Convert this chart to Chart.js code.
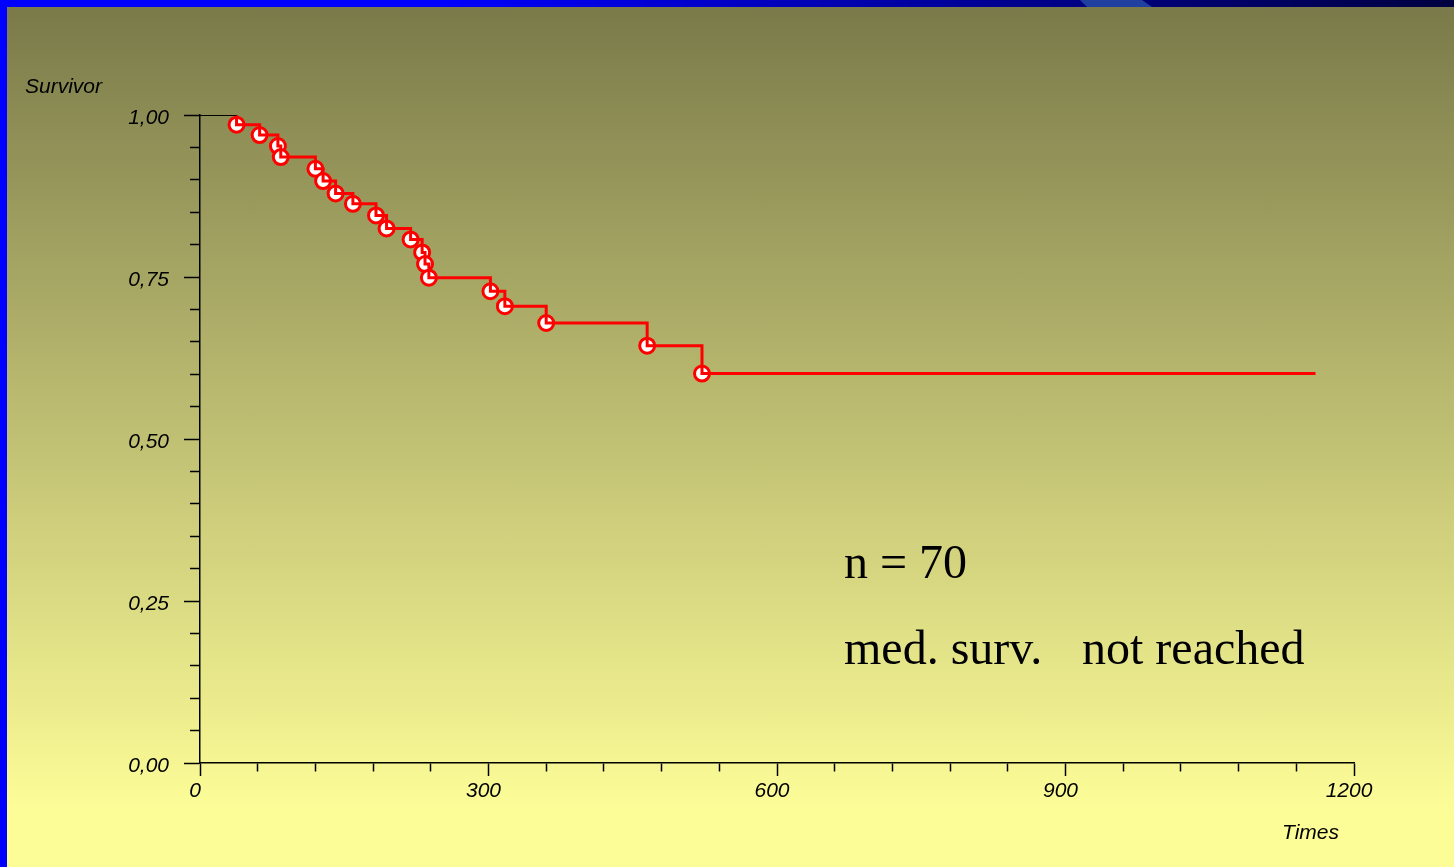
<!DOCTYPE html>
<html><head><meta charset="utf-8">
<script src="https://cdn.jsdelivr.net/npm/chart.js@4.4.0/dist/chart.umd.min.js"></script>
<style>
html,body{margin:0;padding:0;}
body{width:1454px;height:867px;position:relative;overflow:hidden;background:#fdfd98;}
#bg{position:absolute;left:7px;top:7px;width:1447px;height:860px;background:linear-gradient(to bottom,#7a7a4a 0px,#fdfd98 805px,#fdfd98 860px);}
#topbar{position:absolute;left:0;top:0;width:1454px;height:7px;background:linear-gradient(to right,#0000ff 0%,#0000ff 30%,#000090 69%,#000040 100%);}
#swoosh{position:absolute;top:0;left:1080px;width:72px;height:7px;background:#2040a0;clip-path:polygon(0 0,62px 0,72px 7px,7px 7px);}
#leftbar{position:absolute;left:0;top:0;width:7px;height:867px;background:#0000ff;}
canvas{position:absolute;left:0;top:0;}
</style></head>
<body>
<div id="bg"></div><div id="topbar"></div><div id="swoosh"></div><div id="leftbar"></div>
<canvas id="c" width="1454" height="867"></canvas>
<script>
// ---- data ----
const eventTimes = [38, 62, 81, 84, 120, 128, 141, 159, 183, 194, 219, 231, 234, 238, 302, 317, 360, 465, 522];
const survival   = [0.985, 0.969, 0.952, 0.935, 0.917, 0.898, 0.879, 0.863, 0.845, 0.825, 0.808, 0.788, 0.770, 0.749, 0.728, 0.705, 0.679, 0.644, 0.601];
const followUpEnd = 1160;
const xTickLabels = ['0', '300', '600', '900', '1200'];
const yTickLabels = ['0,00', '0,25', '0,50', '0,75', '1,00'];
const yTitle = 'Survivor';
const xTitle = 'Times';
const annotN = 'n = 70';
const annotMed1 = 'med. surv.';
const annotMed2 = 'not reached';

// ---- build datasets ----
const startLine = [{x: 0, y: 1}, {x: eventTimes[0], y: 1}];
const redLine = [{x: eventTimes[0], y: 1}]
  .concat(eventTimes.map((t, i) => ({x: t, y: survival[i]})))
  .concat([{x: followUpEnd, y: survival[survival.length - 1]}]);
const markers = eventTimes.map((t, i) => ({x: t, y: survival[i]}));

const tickFont = {family: '"Liberation Sans", Arial, sans-serif', size: 21, style: 'italic'};

const textPlugin = {
  id: 'texts',
  afterDraw(chart) {
    const c = chart.ctx;
    c.save();
    c.fillStyle = '#000';
    c.textBaseline = 'alphabetic';
    c.textAlign = 'left';
    c.font = 'italic 21px "Liberation Sans", Arial, sans-serif';
    c.fillText(yTitle, 25, 93);
    c.fillText(xTitle, 1282, 839);
    c.font = '48px "Liberation Serif", "Times New Roman", serif';
    c.fillText(annotN, 844, 578);
    c.fillText(annotMed1, 844, 664);
    c.fillText(annotMed2, 1082, 664);
    c.restore();
  }
};

new Chart(document.getElementById('c'), {
  type: 'scatter',
  data: {
    datasets: [
      {data: startLine, showLine: true, borderColor: '#000000', borderWidth: 2, pointRadius: 0, order: 0},
      {data: redLine, showLine: true, stepped: true, borderColor: '#ff0000', borderWidth: 3, pointRadius: 0, order: 1},
      {data: markers, showLine: false, pointRadius: 7.5, pointBackgroundColor: '#ffffff', pointBorderColor: '#ff0000', pointBorderWidth: 3, order: 2}
    ]
  },
  options: {
    responsive: false,
    devicePixelRatio: 1,
    animation: false,
    layout: {padding: {left: 100, top: 115, right: 100, bottom: 44}},
    plugins: {legend: {display: false}, tooltip: {enabled: false}},
    scales: {
      x: {
        type: 'linear', min: 0, max: 1200,
        afterFit: s => { s.height = 60; },
        border: {display: true, color: '#000', width: 1.5},
        grid: {
          drawOnChartArea: false, drawTicks: true, tickLength: 13, tickColor: '#000', tickWidth: 1.5,
          tickBorderDash: ctx => (ctx.index % 5 === 0 ? [] : [8, 20])
        },
        ticks: {
          stepSize: 60, autoSkip: false, maxRotation: 0, color: '#000', font: tickFont, padding: 3, labelOffset: -5,
          callback: (v, i) => (i % 5 === 0 ? xTickLabels[i / 5] : '')
        }
      },
      y: {
        type: 'linear', min: 0, max: 1,
        afterFit: s => { s.width = 100; },
        border: {display: true, color: '#000', width: 1.5},
        grid: {
          drawOnChartArea: false, drawTicks: true, tickLength: 16, tickColor: '#000', tickWidth: 1.5,
          tickBorderDash: ctx => (ctx.index % 5 === 0 ? [] : [10, 6]),
          tickBorderDashOffset: ctx => (ctx.index % 5 === 0 ? 0 : 10)
        },
        ticks: {
          stepSize: 0.05, autoSkip: false, color: '#000', font: tickFont, padding: 15, labelOffset: 3,
          callback: (v, i) => (i % 5 === 0 ? yTickLabels[i / 5] : '')
        }
      }
    }
  },
  plugins: [textPlugin]
});
</script>
</body></html>
